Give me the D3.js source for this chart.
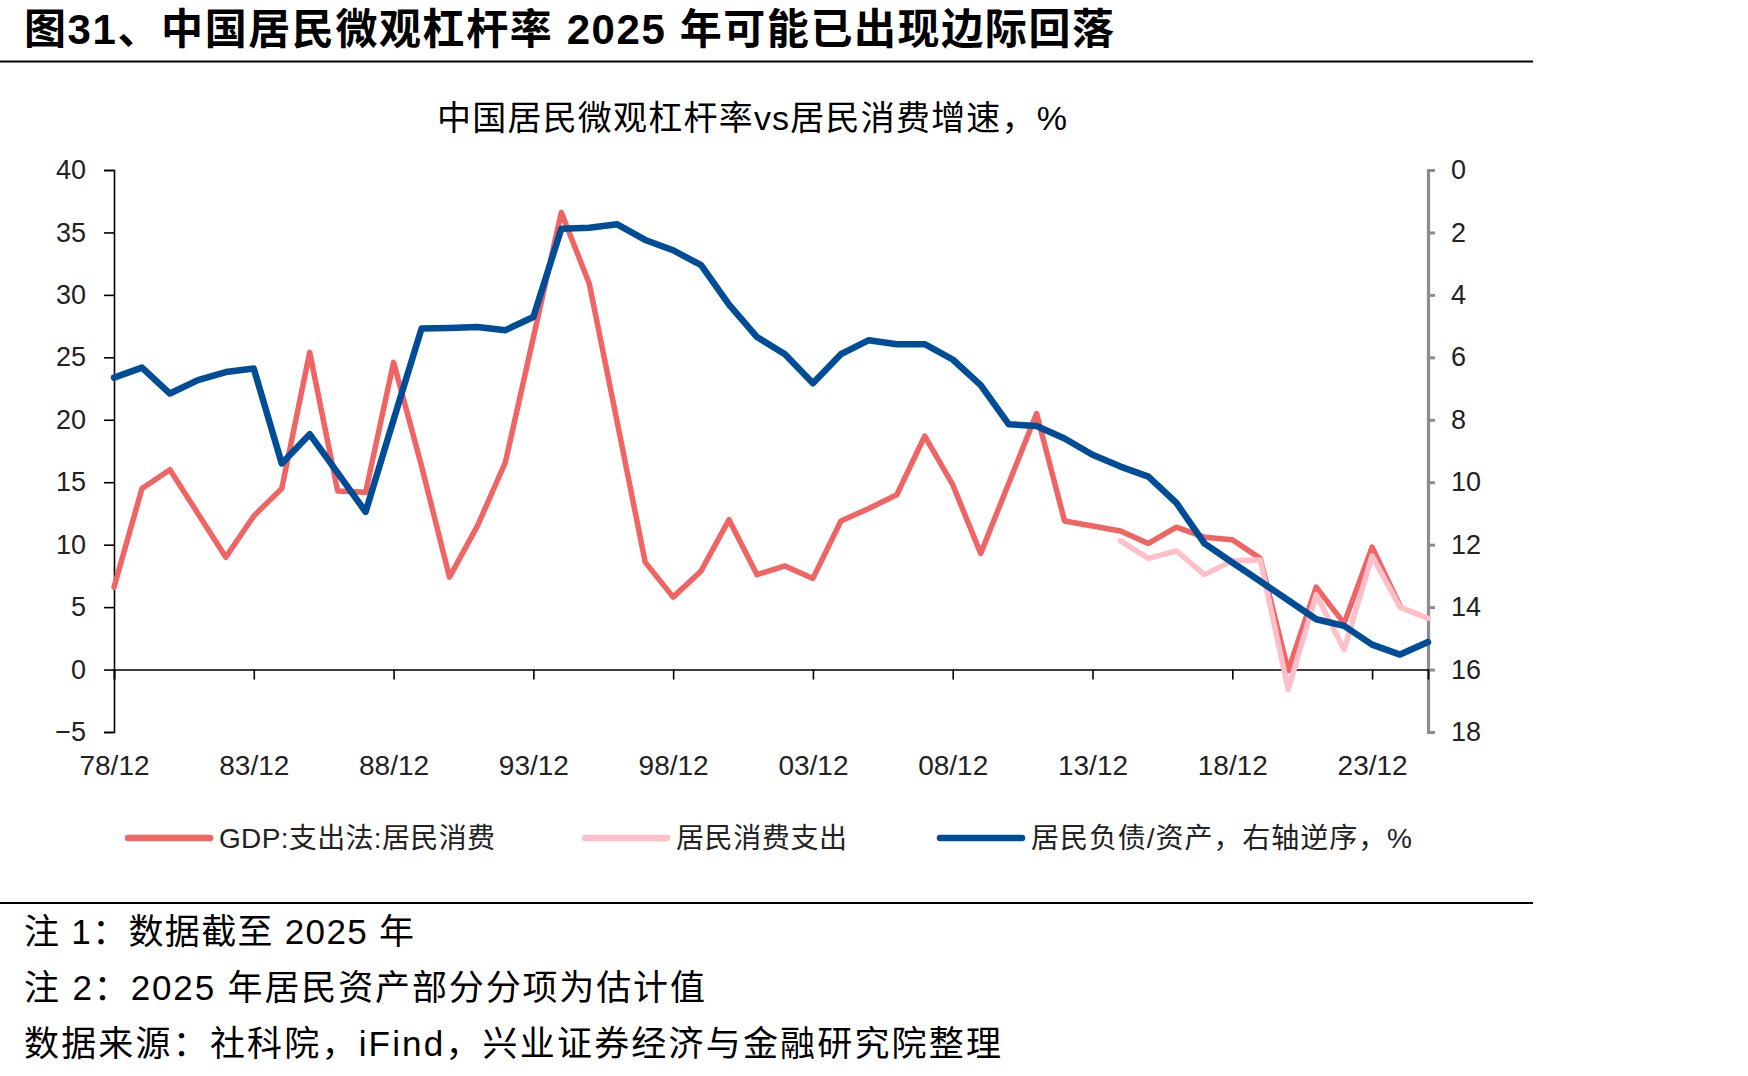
<!DOCTYPE html>
<html>
<head>
<meta charset="utf-8">
<script src="https://cdn.jsdelivr.net/npm/d3@7"></script>
<style>
body { margin: 0; background: #fff; }
svg { display: block; }
text { font-family: "Liberation Sans", Arial, "Noto Sans CJK SC", sans-serif; }
</style>
</head>
<body>
<script>
// data
var years = [1978,1979,1980,1981,1982,1983,1984,1985,1986,1987,1988,1989,1990,1991,1992,1993,
	1994,1995,1996,1997,1998,1999,2000,2001,2002,2003,2004,2005,2006,2007,2008,2009,2010,2011,
	2012,2013,2014,2015,2016,2017,2018,2019,2020,2021,2022,2023,2024,2025];

// GDP:支出法:居民消费, 1978-2024
var gdpConsumption = [6.6,14.5,16.0,12.5,9.0,12.3,14.5,25.4,14.3,14.2,24.6,16.3,7.4,11.5,16.6,26.6,
	36.6,30.9,19.8,8.6,5.8,7.9,12.0,7.6,8.3,7.3,11.9,12.9,14.0,18.7,14.8,9.3,14.9,20.5,
	11.9,11.5,11.1,10.1,11.4,10.6,10.4,8.9,-0.1,6.6,3.7,9.8,5.1];

// 居民消费支出, 2014-2025
var spendYears = [2014,2015,2016,2017,2018,2019,2020,2021,2022,2023,2024,2025];
var spending = [10.3,8.9,9.5,7.6,8.7,8.8,-1.6,6.0,1.6,9.1,5.0,4.1];

// 居民负债/资产 (right axis, reversed), 1978-2025
var debtRatio = [6.65,6.33,7.16,6.73,6.47,6.36,9.4,8.46,9.7,10.95,8.0,5.08,5.06,5.03,5.13,4.71,
	1.88,1.85,1.74,2.24,2.57,3.05,4.31,5.35,5.9,6.83,5.9,5.45,5.58,5.58,6.07,6.89,8.14,8.2,
	8.6,9.12,9.5,9.82,10.66,11.96,12.57,13.17,13.78,14.39,14.6,15.2,15.52,15.12];

var xTickYears = [1978,1983,1988,1993,1998,2003,2008,2013,2018,2023];
var xTickLabels = ["78/12","83/12","88/12","93/12","98/12","03/12","08/12","13/12","18/12","23/12"];
var leftTicks = [-5,0,5,10,15,20,25,30,35,40];
var rightTicks = [0,2,4,6,8,10,12,14,16,18];

var legendNames = ["GDP:支出法:居民消费", "居民消费支出", "居民负债/资产，右轴逆序，%"];
var colors = ["#f06464", "#ffbfc8", "#004d97"];

var svg = d3.select("body").append("svg")
	.attr("width", 1748)
	.attr("height", 1076);

var x = d3.scaleLinear().domain([1978, 2025]).range([114, 1428]);
var yL = d3.scaleLinear().domain([-5, 40]).range([732, 170]);
var yR = d3.scaleLinear().domain([0, 18]).range([170, 732]);

// title
svg.append("text")
	.attr("x", 24)
	.attr("y", 44)
	.attr("font-size", 42)
	.attr("font-weight", "bold")
	.attr("fill", "#000")
	.attr("textLength", 1090)
	.attr("lengthAdjust", "spacing")
	.text("图31、中国居民微观杠杆率 2025 年可能已出现边际回落");

svg.append("line")
	.attr("x1", 0).attr("x2", 1533)
	.attr("y1", 61.5).attr("y2", 61.5)
	.style("stroke", "#000")
	.style("stroke-width", 2.2);

svg.append("text")
	.attr("x", 437)
	.attr("y", 130)
	.attr("font-size", 34)
	.attr("fill", "#000")
	.attr("textLength", 630)
	.attr("lengthAdjust", "spacing")
	.text("中国居民微观杠杆率vs居民消费增速，%");

// axes
var gLeft = svg.append("g")
	.attr("transform", "translate(" + x(1978) + ",0)")
	.call(d3.axisLeft(yL).tickValues(leftTicks).tickSize(10).tickPadding(18).tickFormat(function(d) { return d < 0 ? "\u2212" + (-d) : d; }));
gLeft.select(".domain").style("stroke", "#000").style("stroke-width", 1.6);
gLeft.selectAll(".tick line").style("stroke", "#000").style("stroke-width", 1.6);
gLeft.selectAll("text").attr("font-size", 27).attr("fill", "#222").style("font-family", "Liberation Sans, Arial, sans-serif");

var gRight = svg.append("g")
	.attr("transform", "translate(" + x(2025) + ",0)")
	.call(d3.axisRight(yR).tickValues(rightTicks).tickSize(7).tickPadding(16));
gRight.select(".domain").style("stroke", "#8c8c8c").style("stroke-width", 3.2);
gRight.selectAll(".tick line").style("stroke", "#8c8c8c").style("stroke-width", 3);
gRight.selectAll("text").attr("font-size", 27).attr("fill", "#222").style("font-family", "Liberation Sans, Arial, sans-serif");

var gBottom = svg.append("g")
	.attr("transform", "translate(0," + yL(0) + ")")
	.call(d3.axisBottom(x).tickValues(xTickYears).tickSize(10).tickPadding(76)
		.tickFormat(function(d, i) { return xTickLabels[i]; }));
gBottom.select(".domain").style("stroke", "#000").style("stroke-width", 1.6);
gBottom.selectAll(".tick line").style("stroke", "#000").style("stroke-width", 1.6);
gBottom.selectAll("text").attr("font-size", 28).attr("fill", "#222").style("font-family", "Liberation Sans, Arial, sans-serif");

// series
var lineL = d3.line()
	.x(function(d) { return x(d[0]); })
	.y(function(d) { return yL(d[1]); });
var lineR = d3.line()
	.x(function(d) { return x(d[0]); })
	.y(function(d) { return yR(d[1]); });

svg.append("path")
	.datum(d3.zip(years.slice(0, gdpConsumption.length), gdpConsumption))
	.attr("d", lineL)
	.style("fill", "none")
	.style("stroke", colors[0])
	.style("stroke-width", 5.5)
	.style("stroke-linejoin", "round")
	.style("stroke-linecap", "round");

svg.append("path")
	.datum(d3.zip(spendYears, spending))
	.attr("d", lineL)
	.style("fill", "none")
	.style("stroke", colors[1])
	.style("stroke-width", 5.5)
	.style("stroke-linejoin", "round")
	.style("stroke-linecap", "round");

svg.append("path")
	.datum(d3.zip(years, debtRatio))
	.attr("d", lineR)
	.style("fill", "none")
	.style("stroke", colors[2])
	.style("stroke-width", 6.5)
	.style("stroke-linejoin", "round")
	.style("stroke-linecap", "round");

// legend
var legendX = [128, 585, 940];
var legendW = [276, 171, 381];
var legend = svg.selectAll(".legend")
	.data(legendNames)
	.enter().append("g")
		.attr("class", "legend")
		.attr("transform", function(d, i) { return "translate(" + legendX[i] + ",838)"; });
legend.append("line")
	.attr("x1", 0).attr("x2", 82)
	.attr("y1", 0).attr("y2", 0)
	.style("stroke", function(d, i) { return colors[i]; })
	.style("stroke-width", 6.5)
	.style("stroke-linecap", "round");
legend.append("text")
	.attr("x", 91)
	.attr("y", 10)
	.attr("font-size", 28)
	.attr("fill", "#222")
	.attr("textLength", function(d, i) { return legendW[i]; })
	.attr("lengthAdjust", "spacing")
	.text(function(d) { return d; });

svg.append("line")
	.attr("x1", 0).attr("x2", 1533)
	.attr("y1", 903).attr("y2", 903)
	.style("stroke", "#000")
	.style("stroke-width", 2.2);

// notes
var notes = ["注 1：数据截至 2025 年", "注 2：2025 年居民资产部分分项为估计值", "数据来源：社科院，iFind，兴业证券经济与金融研究院整理"];
var notesW = [390, 681, 977];
svg.selectAll(".note")
	.data(notes)
	.enter().append("text")
		.attr("class", "note")
		.attr("x", 24)
		.attr("y", function(d, i) { return 944 + i * 56; })
		.attr("font-size", 35)
		.attr("fill", "#000")
		.attr("textLength", function(d, i) { return notesW[i]; })
		.attr("lengthAdjust", "spacing")
		.text(function(d) { return d; });
</script>
</body>
</html>
